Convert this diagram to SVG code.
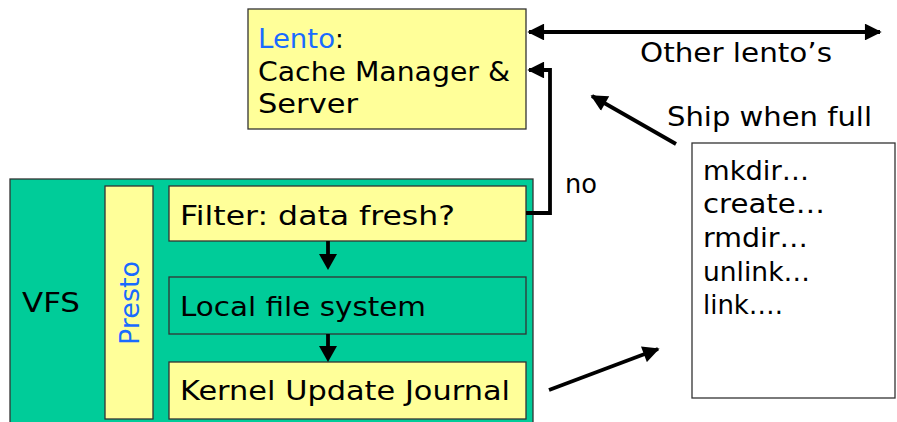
<svg xmlns="http://www.w3.org/2000/svg" width="897" height="422" viewBox="0 0 897 422">
<style>
text{font-family:"DejaVu Sans","Noto Sans",sans-serif;font-size:26px;fill:#000}
.y{fill:#ffff99;stroke:#333;stroke-width:1.3}
.g{fill:#00cc99;stroke:#333;stroke-width:1.3}
.b{fill:#1a6bff}
.c{fill:none;stroke:#000;stroke-width:3.8}
</style>
<defs>
<marker id="ah" viewBox="0 0 10 10" refX="9" refY="5" markerWidth="5" markerHeight="4.4" markerUnits="strokeWidth" orient="auto-start-reverse">
<path d="M0,0L10,5L0,10z" fill="#000"/>
</marker>
</defs>
<g id="vfs">
<rect class="g" x="10" y="179" width="523" height="250"/>
<text x="22" y="312" textLength="58" lengthAdjust="spacingAndGlyphs">VFS</text>
</g>
<g id="presto">
<rect class="y" x="105" y="186" width="48" height="233"/>
<text class="b" transform="translate(139,345) rotate(-90)" textLength="84" lengthAdjust="spacingAndGlyphs">Presto</text>
</g>
<g id="filter">
<rect class="y" x="169" y="186" width="357" height="55"/>
<text x="180" y="225" textLength="275" lengthAdjust="spacingAndGlyphs">Filter: data fresh?</text>
</g>
<g id="lfs">
<rect class="g" x="169" y="277" width="357" height="57"/>
<text x="180" y="316" textLength="246" lengthAdjust="spacingAndGlyphs">Local file system</text>
</g>
<g id="kuj">
<rect class="y" x="169" y="362" width="357" height="57"/>
<text x="180" y="400" textLength="330" lengthAdjust="spacingAndGlyphs">Kernel Update Journal</text>
</g>
<g id="lento">
<rect class="y" x="248" y="9" width="278" height="120"/>
<text x="258" y="48"><tspan class="b" textLength="77" lengthAdjust="spacingAndGlyphs">Lento</tspan>:</text>
<text x="258" y="81" textLength="252" lengthAdjust="spacingAndGlyphs">Cache Manager &amp;</text>
<text x="258" y="113" textLength="100" lengthAdjust="spacingAndGlyphs">Server</text>
</g>
<g id="journal">
<rect x="692" y="143" width="203" height="255" fill="#fff" stroke="#333" stroke-width="1.3"/>
<text x="703" y="180" textLength="106" lengthAdjust="spacingAndGlyphs">mkdir…</text>
<text x="703" y="213" textLength="122" lengthAdjust="spacingAndGlyphs">create…</text>
<text x="703" y="247" textLength="105" lengthAdjust="spacingAndGlyphs">rmdir…</text>
<text x="703" y="281" textLength="107" lengthAdjust="spacingAndGlyphs">unlink…</text>
<text x="703" y="314" textLength="80" lengthAdjust="spacingAndGlyphs">link….</text>
</g>
<g id="labels">
<text x="565" y="193" textLength="32" lengthAdjust="spacingAndGlyphs">no</text>
<text x="640" y="62" textLength="192" lengthAdjust="spacingAndGlyphs">Other lento’s</text>
<text x="667" y="126" textLength="205" lengthAdjust="spacingAndGlyphs">Ship when full</text>
</g>
<g id="connectors">
<path class="c" d="M529,32H880" marker-start="url(#ah)" marker-end="url(#ah)"/>
<path class="c" d="M526,213H550V70H529" marker-end="url(#ah)"/>
<path class="c" d="M328,241V258"/>
<path d="M319,254L328,270L337,254z" fill="#000"/>
<path class="c" d="M328,334V350"/>
<path d="M319,346L328,362L337,346z" fill="#000"/>
<path class="c" d="M549,390L658,349" marker-end="url(#ah)"/>
<path class="c" d="M676,144L592,96" marker-end="url(#ah)"/>
</g>
</svg>
